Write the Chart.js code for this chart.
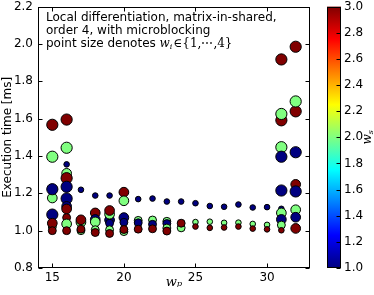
<!DOCTYPE html>
<html><head><meta charset="utf-8">
<script src="https://cdn.jsdelivr.net/npm/chart.js@4.4.0/dist/chart.umd.min.js"></script>
<style>html,body{margin:0;padding:0;background:#fff;}</style>
</head><body>
<canvas id="c" width="374" height="295" style="width:374px;height:295px;display:block"></canvas>
<script>
// ---- data ----
const wpValues = [
 15,15,15,15,15,15,15,15,
 16,16,16,16,16,16,16,16,16,16,16,16,
 17,17,17,17,17,
 18,18,18,18,18,18,
 19,19,19,19,19,19,19,
 20,20,20,20,20,20,
 21,21,21,21,
 22,22,22,22,
 23,23,23,23,23,
 24,24,24,
 25,25,25,
 26,26,26,
 27,27,27,
 28,28,28,
 29,29,29,
 30,30,30,
 31,31,31,31,31,31,31,31,31,31,31,
 32,32,32,32,32,32,32,32,32
];
const execTime = [
 1.567,1.396,1.175,1.222,1.020,1.086,1.040,1.000,
 1.595,1.444,1.355,1.307,1.281,1.235,1.172,1.130,1.116,1.070,1.036,1.000,
 1.219,1.045,1.058,1.000,1.008,
 1.188,1.095,1.060,1.047,1.005,0.990,
 1.188,1.057,1.040,1.088,1.108,1.005,0.985,
 1.206,1.160,1.070,1.045,0.995,1.006,
 1.169,1.055,1.042,1.008,
 1.172,1.057,1.034,1.010,
 1.156,1.050,1.038,1.014,0.998,
 1.156,1.015,1.040,
 1.147,1.046,1.022,
 1.132,1.048,1.015,
 1.128,1.042,1.017,
 1.140,1.043,1.022,
 1.124,1.036,1.011,
 1.126,1.031,1.007,
 1.917,1.591,1.625,1.447,1.396,1.215,1.117,1.095,1.060,1.030,1.002,
 1.985,1.639,1.692,1.420,1.248,1.210,1.112,1.072,1.012
];
const wsValues = [
 3,2,2,1,2,1,3,3,
 3,2,1,2,3,1,1,1,3,3,2,3,
 1,2,3,2,3,
 1,3,1,2,2,3,
 1,1,1,2,3,2,3,
 3,2,1,1,2,3,
 1,2,1,3,
 1,2,1,3,
 1,2,1,2,3,
 1,2,3,
 1,2,3,
 1,2,3,
 1,2,3,
 1,2,3,
 1,2,3,
 1,2,3,
 3,3,2,2,1,1,1,2,1,2,3,
 3,3,2,1,3,1,2,1,3
];
const wiValues = [
 4,4,3,4,2,4,3,2,
 4,4,1,3,4,4,4,3,3,2,3,2,
 1,3,3,2,2,
 1,3,3,3,2,2,
 1,3,2,3,3,2,2,
 3,3,3,2,2,2,
 1,2,2,2,
 1,2,2,2,
 1,2,2,2,2,
 1,2,2,
 1,1,1,
 1,1,1,
 1,1,1,
 1,1,1,
 1,1,1,
 1,1,1,
 4,4,4,4,4,4,1,3,3,2,1,
 4,4,4,4,3,4,3,3,3
];
const xTicks = [15, 20, 25, 30];
const yTicks = [0.8, 1.0, 1.2, 1.4, 1.6, 1.8, 2.0, 2.2];
const cbTicks = [1.0, 1.2, 1.4, 1.6, 1.8, 2.0, 2.2, 2.4, 2.6, 2.8, 3.0];
const noteLines = ["Local differentiation, matrix-in-shared,", "order 4, with microblocking", "point size denotes "];

// ---- helpers ----
function clamp(v){return Math.max(0, Math.min(1, v));}
function jet(t){
  const r = clamp(Math.min(4*t-1.5, -4*t+4.5));
  const g = clamp(Math.min(4*t-0.5, -4*t+3.5));
  const b = clamp(Math.min(4*t+0.5, -4*t+2.5));
  return 'rgb('+Math.round(r*255)+','+Math.round(g*255)+','+Math.round(b*255)+')';
}
const SANS = 'DejaVu Sans';
const SERIF = 'DejaVu Serif';

const decor = {
  id:'decor',
  afterDraw(chart){
    const ctx = chart.ctx, a = chart.chartArea;
    const xs = chart.scales.x, ys = chart.scales.y, cb = chart.scales.cb;
    ctx.save();
    ctx.strokeStyle = '#000'; ctx.lineWidth = 1;
    // frame
    const L = Math.round(a.left)+0.5, R = Math.round(a.right)-0.5, T = Math.round(a.top)+0.5, B = Math.round(a.bottom)-0.5;
    ctx.strokeRect(L, T, R-L, B-T);
    // inward ticks on all sides
    ctx.beginPath();
    xTicks.forEach(v=>{ const p = Math.round(xs.getPixelForValue(v))+0.5;
      ctx.moveTo(p,B); ctx.lineTo(p,B-4); ctx.moveTo(p,T); ctx.lineTo(p,T+4); });
    yTicks.forEach(v=>{ const p = Math.round(ys.getPixelForValue(v))+0.5;
      ctx.moveTo(L,p); ctx.lineTo(L+4,p); ctx.moveTo(R,p); ctx.lineTo(R-4,p); });
    ctx.stroke();
    // annotation text
    ctx.fillStyle = '#000'; ctx.textBaseline = 'middle'; ctx.textAlign = 'left';
    ctx.font = '12px "'+SANS+'"';
    const tx = 46, ty0 = 17.5, lh = 13;
    noteLines.forEach((s,i)=> ctx.fillText(s, tx, ty0 + i*lh));
    let cx = tx + ctx.measureText(noteLines[2]).width;
    const y3 = ty0 + 2*lh;
    ctx.font = 'italic 12px "'+SERIF+'"'; ctx.fillText('w', cx, y3); cx += ctx.measureText('w').width;
    ctx.font = 'italic 8px "'+SERIF+'"'; ctx.fillText('i', cx, y3+3); cx += ctx.measureText('i').width + 1;
    ctx.font = '12px "'+SERIF+'"'; ctx.fillText('\u2208{1,\u22EF,4}', cx, y3);
    // colorbar
    const cbx = 327, cbw = 14, cTop = cb.getPixelForValue(3), cBot = cb.getPixelForValue(1);
    const grad = ctx.createLinearGradient(0, cBot, 0, cTop);
    for (let k=0;k<=40;k++){ grad.addColorStop(k/40, jet(k/40)); }
    ctx.fillStyle = grad; ctx.fillRect(cbx, cTop, cbw, cBot-cTop);
    ctx.strokeRect(cbx+0.5, Math.round(cTop)+0.5, cbw-1, Math.round(cBot-cTop)-1);
    ctx.beginPath();
    cbTicks.forEach(v=>{ const p = Math.round(cb.getPixelForValue(v))+0.5;
      ctx.moveTo(cbx+cbw-0.5,p); ctx.lineTo(cbx+cbw-4.5,p); });
    ctx.stroke();
    ctx.fillStyle = '#000'; ctx.font = '12px "'+SANS+'"'; ctx.textBaseline='middle';
    cbTicks.forEach(v=> ctx.fillText(v.toFixed(1), 344, cb.getPixelForValue(v)));
    // colorbar label w_s (rotated)
    ctx.translate(368, (cTop+cBot)/2); ctx.rotate(-Math.PI/2);
    ctx.textAlign='center';
    ctx.font = 'italic 12px "'+SERIF+'"'; ctx.fillText('w', -2, 0);
    ctx.font = 'italic 8px "'+SERIF+'"'; ctx.fillText('s', 5, 3);
    ctx.restore();
  }
};

new Chart(document.getElementById('c'), {
  type:'scatter',
  data:{ datasets:[{
    data: wpValues.map((x,i)=>({x:x, y:execTime[i]})),
    pointRadius: c => 2.8*Math.sqrt(wiValues[c.dataIndex]),
    pointHoverRadius: c => 2.8*Math.sqrt(wiValues[c.dataIndex]),
    backgroundColor: c => jet((wsValues[c.dataIndex]-1)/2),
    borderColor:'#000', borderWidth:1
  }]},
  plugins:[decor],
  options:{
    responsive:false, animation:false, devicePixelRatio:1,
    layout:{padding:{left:0, right:64, top:4, bottom:0}},
    plugins:{legend:{display:false}, tooltip:{enabled:false}},
    scales:{
      x:{type:'linear', min:14, max:33,
        afterBuildTicks: s=>{ s.ticks = xTicks.map(v=>({value:v})); },
        afterFit: s=>{ s.height = 27; s.paddingLeft = 0; s.paddingRight = 0; },
        ticks:{callback:v=>String(v), color:'#000', padding:3, maxRotation:0, font:{family:SANS, size:12}},
        grid:{display:false, drawTicks:false}, border:{display:false},
        title:{display:true, text:'w\u209A', color:'#000', font:{family:SERIF, style:'italic', size:13}, padding:{top:0, bottom:5}}
      },
      y:{type:'linear', min:0.8, max:2.2,
        afterBuildTicks: s=>{ s.ticks = yTicks.map(v=>({value:v})); },
        afterFit: s=>{ s.width = 38; s.paddingTop = 0; s.paddingBottom = 0; },
        ticks:{callback:v=>v.toFixed(1), color:'#000', padding:5, font:{family:SANS, size:12}},
        grid:{display:false, drawTicks:false}, border:{display:false},
        title:{display:true, text:'Execution time [ms]', color:'#000', font:{family:SANS, size:12}, padding:{top:1, bottom:0}}
      },
      cb:{type:'linear', axis:'y', position:'right', display:false, min:1, max:3}
    }
  }
});
</script>
</body></html>
